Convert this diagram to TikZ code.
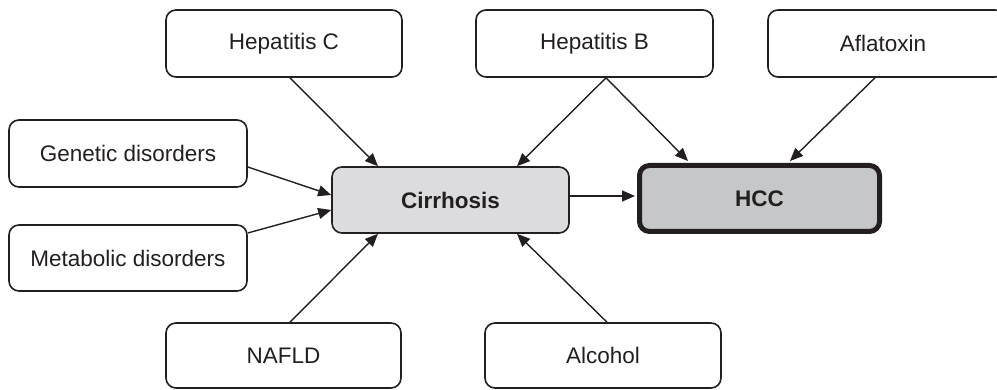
\documentclass[tikz,border=0pt]{standalone}
\usepackage{fontspec}
\setmainfont{Liberation Sans}
\usetikzlibrary{arrows.meta,calc}
\definecolor{txt}{HTML}{231F20}
\definecolor{cirfill}{HTML}{DCDCDE}
\definecolor{hccfill}{HTML}{C6C7C9}
\begin{document}
\begin{tikzpicture}[x=1pt,y=-1pt,
  box/.style={draw=txt, line width=1.6pt, rounded corners=10pt, fill=white,
    inner sep=0pt, minimum height=67pt, text=txt,
    font=\fontsize{22.5}{27}\selectfont},
  conn/.style={draw=txt, line width=1.4pt, -{Triangle[length=13pt,width=11pt]}}]
\useasboundingbox (0,0) rectangle (997,390);
\begin{scope}
\clip (0,0) rectangle (997,390);
\node[box, minimum width=236pt] (hc) at (284,43.5) {Hepatitis C};
\node[box, minimum width=237pt] (hb) at (594.5,43.5) {Hepatitis B};
\node[box, minimum width=237pt] (af) at (886.5,43.5) {\hspace*{-7pt}Aflatoxin};
\node[box, minimum width=238pt] (gen) at (128,153.5) {Genetic disorders};
\node[box, minimum width=238pt, minimum height=66pt] (met) at (128,258) {Metabolic disorders};
\node[box, minimum width=237pt, minimum height=66pt, fill=cirfill, font=\fontsize{22.5}{27}\selectfont\bfseries] (cir) at (450.5,200) {Cirrhosis};
\node[box, minimum width=240pt, minimum height=66pt, line width=5pt, fill=hccfill, font=\fontsize{22.5}{27}\selectfont\bfseries] (hcc) at (759.5,198.5) {HCC};
\node[box, minimum width=235pt, minimum height=65pt] (naf) at (283.5,355.5) {NAFLD};
\node[box, minimum width=236pt, minimum height=65pt] (alc) at (603,355.5) {Alcohol};
\end{scope}
\draw[conn] ($(hc.south)+(6,0)$) -- ($(cir.north)+(-72.5,0)$);
\draw[conn] ($(hb.south)+(11.5,0)$) -- ($(cir.north)+(66.5,0)$);
\draw[conn] ($(hb.south)+(11.5,0)$) -- ($(hcc.north)+(-71.5,-2)$);
\draw[conn] ($(af.south)+(-11.5,0)$) -- ($(hcc.north)+(30.5,-2)$);
\draw[conn] ($(gen.east)+(0,13.5)$) -- ($(cir.west)+(0,-5)$);
\draw[conn] ($(met.east)+(0,-25)$) -- ($(cir.west)+(0,10)$);
\draw[conn] ($(naf.north)+(6.5,0)$) -- ($(cir.south)+(-72.5,0)$);
\draw[conn] ($(alc.north)+(4,0)$) -- ($(cir.south)+(66.5,0)$);
\coordinate (ce) at ($(cir.east)+(0,-4)$);
\draw[conn] (ce) -- ($(ce -| hcc.west)+(-2,0)$);
\end{tikzpicture}
\end{document}
